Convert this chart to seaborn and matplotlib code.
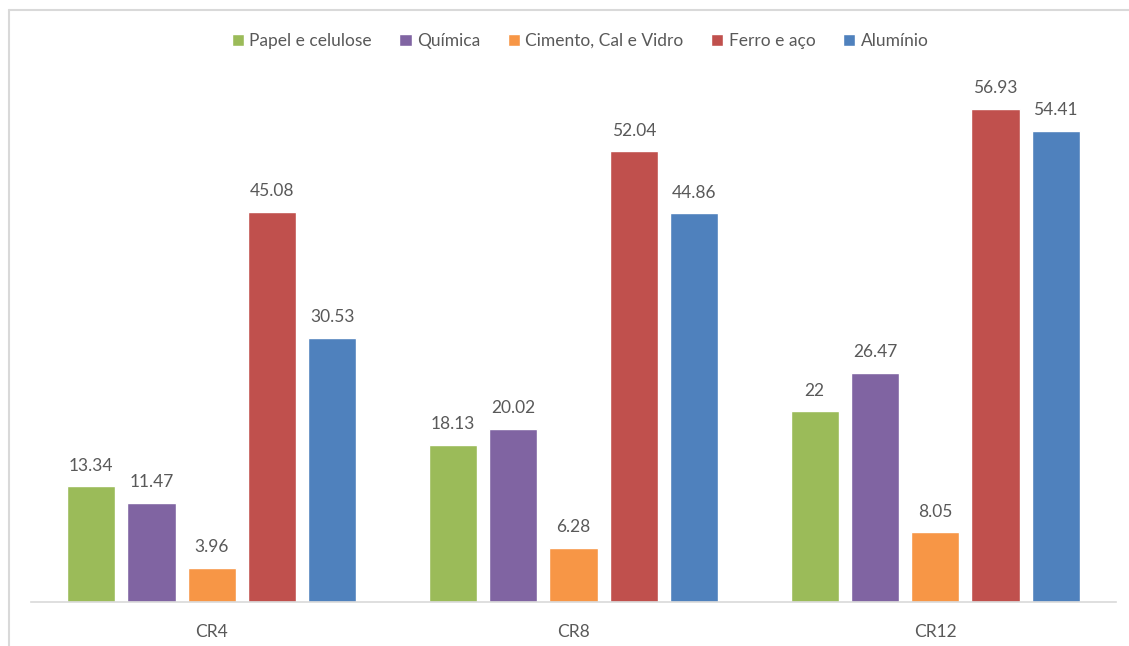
import matplotlib
matplotlib.use("Agg")
import matplotlib.pyplot as plt
import seaborn as sns
import pandas as pd
from matplotlib.lines import Line2D

categories = ["CR4", "CR8", "CR12"]
series = ["Papel e celulose", "Química", "Cimento, Cal e Vidro", "Ferro e aço", "Alumínio"]
papel = [13.34, 18.13, 22]
quimica = [11.47, 20.02, 26.47]
cimento = [3.96, 6.28, 8.05]
ferro = [45.08, 52.04, 56.93]
aluminio = [30.53, 44.86, 54.41]
colors = ["#9BBB59", "#8064A2", "#F79646", "#C0504D", "#4F81BD"]

rows = []
for s, vals in zip(series, [papel, quimica, cimento, ferro, aluminio]):
    for c, v in zip(categories, vals):
        rows.append({"cat": c, "serie": s, "valor": v})
df = pd.DataFrame(rows)

sns.set_theme(style="white")
plt.rcParams["font.family"] = ["Lato", "DejaVu Sans"]
txt = "#595959"

fig = plt.figure(figsize=(11.29, 6.46), dpi=100)
ax = fig.add_axes([31 / 1129, 44 / 646, (1116 - 31) / 1129, (602 - 84.5) / 646])
sns.barplot(data=df, x="cat", y="valor", hue="serie", order=categories,
            hue_order=series, palette=colors, width=0.833, gap=0.2,
            saturation=1, ax=ax, legend=True)

for cont in ax.containers:
    labels = [f"{v:g}" for v in cont.datavalues]
    ax.bar_label(cont, labels=labels, padding=9, fontsize=12.5, color=txt)

ax.set_ylim(0, 59.75)
ax.set_xlim(-0.5, 2.5)
ax.set_xlabel("")
ax.set_ylabel("")
ax.set_yticks([])
ax.tick_params(axis="x", length=0, labelsize=12.5, labelcolor=txt, pad=16)
for sp in ["top", "right", "left"]:
    ax.spines[sp].set_visible(False)
ax.spines["bottom"].set_color("#d9d9d9")
ax.spines["bottom"].set_linewidth(1.2)

h, l = ax.get_legend_handles_labels()
ax.get_legend().remove()
fig.legend(h, l, loc="center", bbox_to_anchor=(580 / 1129, 1 - 41 / 646), ncol=5,
           frameon=False, fontsize=12.5, labelcolor=txt, handlelength=0.7,
           handleheight=0.7, handletextpad=0.3, columnspacing=1.6)

# chart border (light gray)
fig.add_artist(Line2D([9 / 1129, 9 / 1129], [0, 1 - 10 / 646], color="#d9d9d9", lw=1.5))
fig.add_artist(Line2D([9 / 1129, 1], [1 - 10 / 646, 1 - 10 / 646], color="#d9d9d9", lw=1.5))

fig.savefig("out.png", dpi=100)
